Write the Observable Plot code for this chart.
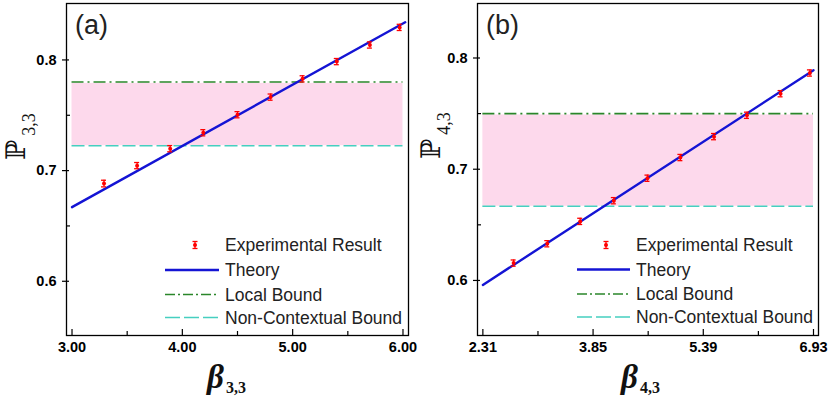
<!DOCTYPE html>
<html><head><meta charset="utf-8">
<script src="https://cdn.jsdelivr.net/npm/d3@7"></script>
<script src="https://cdn.jsdelivr.net/npm/@observablehq/plot@0.6"></script>
<style>
body{margin:0;background:#fff;}
#wrap{position:relative;width:831px;height:405px;overflow:hidden;}
#a,#b{position:absolute;top:0;}
#a{left:0;} #b{left:415px;}
svg{overflow:visible}
</style></head><body>
<div id="wrap"><div id="a"></div><div id="b"></div></div>
<script>
// ---- Panel (a) data ----
const betaA = [3.29, 3.59, 3.89, 4.19, 4.50, 4.80, 5.09, 5.40, 5.70, 5.97];
const probA = [0.6883, 0.7045, 0.7198, 0.7342, 0.7505, 0.7664, 0.7829, 0.7985, 0.8135, 0.8294];
const errA  = [0.0030, 0.0028, 0.0028, 0.0028, 0.0028, 0.0028, 0.0028, 0.0028, 0.0028, 0.0028];
const theoryBetaA = [3.00, 6.02];
const theoryProbA = [0.667, 0.834];
const localA = 0.780, ncA = 0.7225, bandTopA = 0.7788;
const spanA = [3.00, 6.00];
const xTicksA = [3, 4, 5, 6];
const xTickLabelsA = ["3.00", "4.00", "5.00", "6.00"];
const xMinorA = [3.5, 4.5, 5.5];

// ---- Panel (b) data ----
const betaB = [2.74, 3.21, 3.67, 4.14, 4.61, 5.07, 5.54, 6.00, 6.47, 6.88];
const probB = [0.6156, 0.6330, 0.6531, 0.6717, 0.6919, 0.7105, 0.7293, 0.7485, 0.7679, 0.7865];
const errB  = [0.0028, 0.0028, 0.0028, 0.0028, 0.0028, 0.0028, 0.0028, 0.0028, 0.0028, 0.0028];
const theoryBetaB = [2.31, 6.93];
const theoryProbB = [0.596, 0.789];
const localB = 0.750, ncB = 0.6667, bandTopB = 0.7488;
const spanB = [2.31, 6.93];
const xTicksB = [2.31, 3.85, 5.39, 6.93];
const xTickLabelsB = ["2.31", "3.85", "5.39", "6.93"];
const xMinorB = [3.08, 4.62, 6.16];

// ---- shared ----
const yTicks = [0.6, 0.7, 0.8];
const yTickLabels = ["0.6", "0.7", "0.8"];
const yMinor = [0.65, 0.75];
const legendLabels = ["Experimental Result", "Theory", "Local Bound", "Non-Contextual Bound"];

const C = {blue:"#1414d4", green:"#2a862a", cyan:"#46cfc0", pink:"#fdd9ec", red:"#ff0000", ink:"black", text:"#222222"};
const ns = "http://www.w3.org/2000/svg";

function panel(cfg) {
  const W = cfg.width, H = 405, ml = cfg.ml, mr = cfg.mr, mt = 3, mb = 70;
  const iw = W - ml - mr, ih = H - mt - mb;
  const pts = cfg.beta.map((b, i) => ({x: b, y: cfg.prob[i], e: cfg.err[i]}));
  const theory = cfg.tx.map((x, i) => ({x, y: cfg.ty[i]}));
  const xLab = new Map(cfg.xTicks.map((t, i) => [t, cfg.xLabels[i]]));
  const yLab = new Map(yTicks.map((t, i) => [t, yTickLabels[i]]));
  const svg = Plot.plot({
    width: W, height: H, marginLeft: ml, marginRight: mr, marginTop: mt, marginBottom: mb,
    style: {background: "transparent", overflow: "visible", color: "black", fontFamily: "'Liberation Sans', Arial, sans-serif"},
    x: {domain: cfg.xdom},
    y: {domain: cfg.ydom},
    marks: [
      Plot.rect([0], {x1: cfg.span[0], x2: cfg.span[1], y1: cfg.nc, y2: cfg.bandTop, fill: C.pink}),
      Plot.ruleY([cfg.local], {x1: cfg.span[0], x2: cfg.span[1], stroke: C.green, strokeWidth: 1.6, strokeDasharray: "12,4,2,4"}),
      Plot.ruleY([cfg.nc], {x1: cfg.span[0], x2: cfg.span[1], stroke: C.cyan, strokeWidth: 1.6, strokeDasharray: "13,4"}),
      Plot.line(theory, {x: "x", y: "y", stroke: C.blue, strokeWidth: 2.4}),
      Plot.ruleX(pts, {x: "x", y1: d => d.y - d.e, y2: d => d.y + d.e, stroke: C.red, strokeWidth: 1.3}),
      Plot.ruleY(pts, {y: d => d.y - d.e, x1: "x", x2: "x", insetLeft: -2.5, insetRight: -2.5, stroke: C.red, strokeWidth: 1.3}),
      Plot.ruleY(pts, {y: d => d.y + d.e, x1: "x", x2: "x", insetLeft: -2.5, insetRight: -2.5, stroke: C.red, strokeWidth: 1.3}),
      Plot.dot(pts, {x: "x", y: "y", r: 2, fill: C.red}),
      Plot.frame({stroke: "black", strokeWidth: 1.3}),
      Plot.ruleX(cfg.xTicks, {x: d => d, insetTop: ih - 6, stroke: C.ink, strokeWidth: 1.2}),
      Plot.ruleX(cfg.xMinor, {x: d => d, insetTop: ih - 4, stroke: C.ink, strokeWidth: 1.2}),
      Plot.ruleY(yTicks, {y: d => d, insetLeft: -4, insetRight: iw - 3, stroke: C.ink, strokeWidth: 1.2}),
      Plot.ruleY(yMinor, {y: d => d, insetRight: iw - 4, stroke: C.ink, strokeWidth: 1.2}),
      Plot.axisX(cfg.xTicks, {tickSize: 0, tickPadding: 6, tickFormat: d => xLab.get(d), fontSize: 14.5, fontWeight: "bold", fill: C.ink, label: null}),
      Plot.axisY(yTicks, {tickSize: 0, tickPadding: 10, tickFormat: d => yLab.get(d), fontSize: 14.5, fontWeight: "bold", fill: C.ink, label: null})
    ]
  });

  const add = (tag, attrs, parent = svg) => {
    const el = document.createElementNS(ns, tag);
    for (const k in attrs) el.setAttribute(k, attrs[k]);
    parent.appendChild(el);
    return el;
  };
  const top = add("g", {"text-anchor": "start"});
  // panel letter
  const pl = add("text", {x: cfg.letterX, y: 34, "font-size": 27, fill: C.text, "font-family": "'Liberation Sans', Arial, sans-serif"}, top);
  pl.textContent = cfg.letter;

  // y label
  const yl = add("text", {transform: `translate(${cfg.ylX},${cfg.ylY}) rotate(-90)`, fill: "#111111"}, top);
  const t1 = add("tspan", {"font-size": 27, "font-family": "'DejaVu Serif', serif"}, yl); t1.textContent = "ℙ";
  const t2 = add("tspan", {"font-size": 18, "font-family": "'Liberation Serif', serif", dx: 4, dy: 10}, yl); t2.textContent = cfg.sub;

  // x label
  const xl = add("text", {x: cfg.xlX, y: 388, fill: "#111111", "font-family": "'Liberation Serif', serif"}, top);
  const s1 = add("tspan", {"font-size": 33, "font-weight": "bold", "font-style": "italic"}, xl); s1.textContent = "β";
  const s2 = add("tspan", {"font-size": 16, "font-weight": "bold", dx: 2, dy: 5}, xl); s2.textContent = cfg.sub;

  // legend
  const L = cfg.legend;
  const g = add("g", {"font-family": "'Liberation Sans', Arial, sans-serif", "font-size": 17.5, fill: C.text, "text-anchor": "start"}, top);
  legendLabels.forEach((lab, i) => {
    const t = add("text", {x: L.tx, y: L.rows[i], dy: "0.36em"}, g);
    t.textContent = lab;
  });
  const ex = L.sym, ey = L.rows[0];
  add("line", {x1: ex, x2: ex, y1: ey - 3.5, y2: ey + 3.5, stroke: C.red, "stroke-width": 1.3}, g);
  add("line", {x1: ex - 2.5, x2: ex + 2.5, y1: ey - 3.5, y2: ey - 3.5, stroke: C.red, "stroke-width": 1.3}, g);
  add("line", {x1: ex - 2.5, x2: ex + 2.5, y1: ey + 3.5, y2: ey + 3.5, stroke: C.red, "stroke-width": 1.3}, g);
  add("circle", {cx: ex, cy: ey, r: 2, fill: C.red}, g);
  add("line", {x1: L.x1, x2: L.x2, y1: L.rows[1], y2: L.rows[1], stroke: C.blue, "stroke-width": 2.4}, g);
  add("line", {x1: L.x1, x2: L.x2, y1: L.rows[2], y2: L.rows[2], stroke: C.green, "stroke-width": 1.6, "stroke-dasharray": "10,3,2,3"}, g);
  add("line", {x1: L.x1, x2: L.x2, y1: L.rows[3], y2: L.rows[3], stroke: C.cyan, "stroke-width": 1.6, "stroke-dasharray": "15,4"}, g);
  return svg;
}

document.getElementById("a").appendChild(panel({
  width: 415, ml: 66, mr: 7, xdom: [2.95, 6.05], ydom: [0.551, 0.851],
  beta: betaA, prob: probA, err: errA, tx: theoryBetaA, ty: theoryProbA,
  local: localA, nc: ncA, bandTop: bandTopA, span: spanA,
  xTicks: xTicksA, xLabels: xTickLabelsA, xMinor: xMinorA,
  letter: "(a)", letterX: 75, sub: "3,3", ylX: 25, ylY: 160, xlX: 207,
  legend: {rows: [245, 270, 294.5, 317.5], x1: 165, x2: 219, tx: 225, sym: 195}
}));
document.getElementById("b").appendChild(panel({
  width: 416, ml: 62, mr: 13, xdom: [2.235, 7.0], ydom: [0.5505, 0.849],
  beta: betaB, prob: probB, err: errB, tx: theoryBetaB, ty: theoryProbB,
  local: localB, nc: ncB, bandTop: bandTopB, span: spanB,
  xTicks: xTicksB, xLabels: xTickLabelsB, xMinor: xMinorB,
  letter: "(b)", letterX: 71, sub: "4,3", ylX: 25, ylY: 159, xlX: 206,
  legend: {rows: [245, 269.5, 294, 317], x1: 162, x2: 215, tx: 221, sym: 191}
}));
</script>
</body></html>
